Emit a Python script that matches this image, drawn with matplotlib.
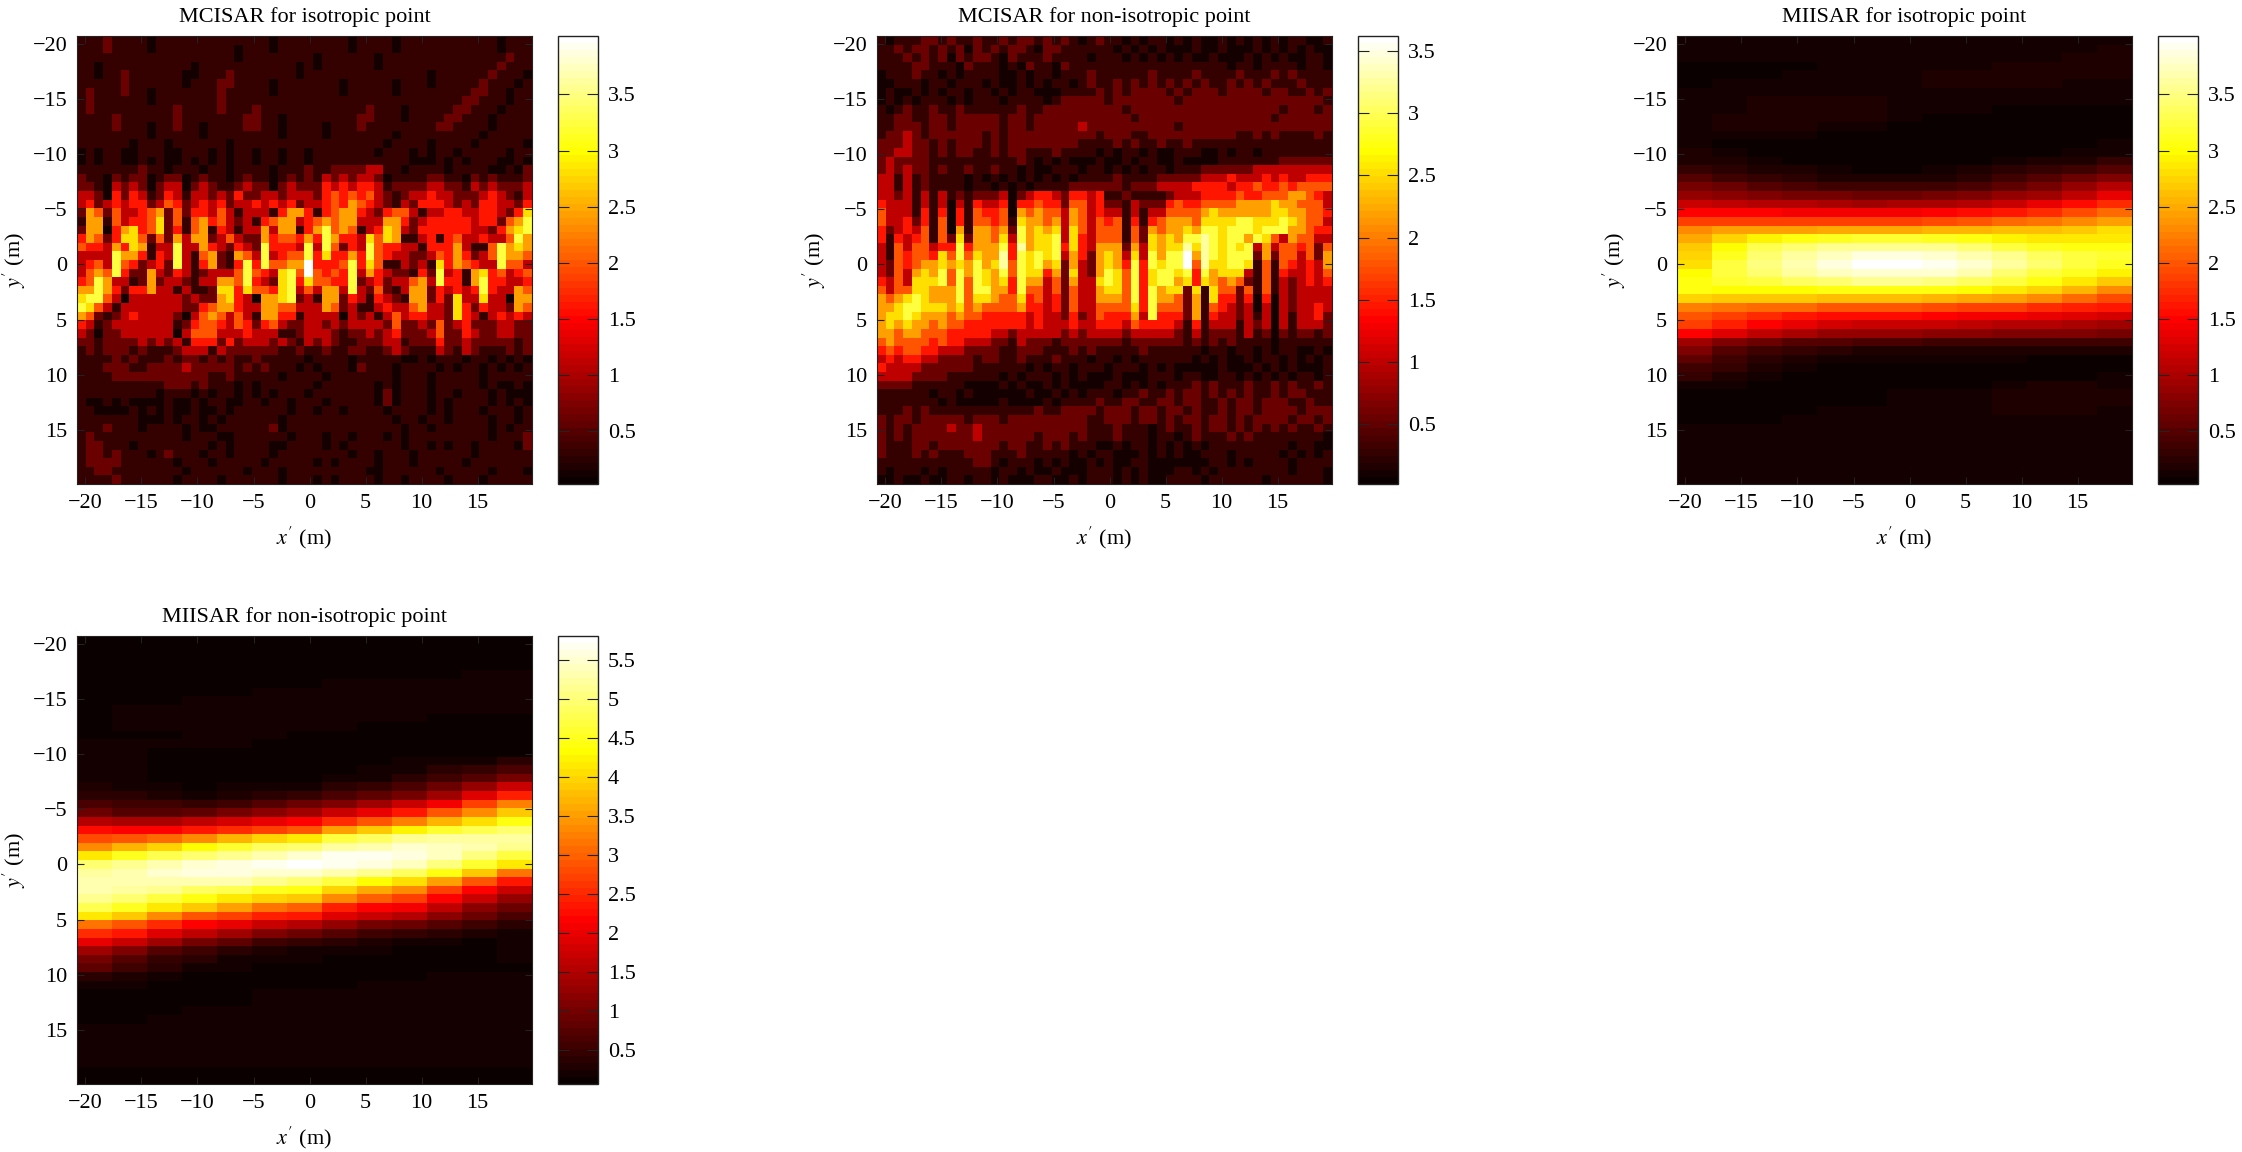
import matplotlib
matplotlib.use("Agg")
import matplotlib.pyplot as plt
import numpy as np

plt.rcParams["font.family"] = ["Liberation Serif", "DejaVu Serif"]
plt.rcParams["mathtext.fontset"] = "stix"

TITLES = ["MCISAR for isotropic point", "MCISAR for non-isotropic point",
          "MIISAR for isotropic point", "MIISAR for non-isotropic point"]
VMAX = [4.02, 3.62, 4.02, 5.81]
VMIN = [0.03, 0.02, 0.03, 0.06]
AXIS_TICKS = [-20, -15, -10, -5, 0, 5, 10, 15]
CBAR_TICKS = [[0.5, 1, 1.5, 2, 2.5, 3, 3.5],
              [0.5, 1, 1.5, 2, 2.5, 3, 3.5],
              [0.5, 1, 1.5, 2, 2.5, 3, 3.5],
              [0.5, 1, 1.5, 2, 2.5, 3, 3.5, 4, 4.5, 5, 5.5]]

# share of the colour scale that each hex digit in the two speckled grids stands for
LEVELS = [0.03, 0.08, 0.16, 0.28, 0.40, 0.50, 0.60, 0.70, 0.80, 0.90, 1.00]

# levels, one hex digit per cell
MCISAR_ISO = [
    "1112111101111 1111111110111 1111101111011 1111111110111",
    "1112111101111 1111101110111 1111101111011 1111111110111",
    "1111111111111 1111101111111 1011111101111 1111111111211",
    "1101111111111 0111111111110 1011111101111 1111111112111",
    "1101121111110 0111211111110 1111111111111 1011111121110",
    "1111121111110 1112211110111 1111011111011 1011111211101",
    "1211121101111 1112111110111 1111011111011 1111112211011",
    "1211111101111 1112111111111 1111111111111 1111122111011",
    "1211111111121 1112111211111 1111111211101 1111221110111",
    "1111211111121 1111112211011 1111112211101 1112211101111",
    "1111211101121 1011112211011 1101112111111 1122111101111",
    "1111111101111 1011111111011 1101111111011 1111111011111",
    "1111110111011 1111011111111 1111111110111 1011110111110",
    "0101100111001 1101011011011 0111111101110 1011011111011",
    "0101100101001 0101011011011 0111111111110 0010101110010",
    "1111111211011 1011011110111 2112222331101 1110111100102",
    "2110212201220 1211012110121 2132323320111 1221102121112",
    "2210323202330 2321123220232 2243434431222 2332213232223",
    "3320424312431 3323242233233 3245454532123 3433222343213",
    "3423434423542 3434233434342 3345465432132 4443232443324",
    "2652533456252 4435313331466 4145664324553 1334433443247",
    "1661534457251 5645323145663 4565663336642 3444443442568",
    "2660467457241 5614313363661 4685651347632 4444443324678",
    "4652477525263 6623532264554 6486443757611 3414533433586",
    "5443647613383 3643243284443 8385243854433 1444631158676",
    "3333866414383 1562165383455 8474464854332 2354642358665",
    "3453854234283 1462148485566 a444584751132 3174654338553",
    "3565842263243 1233358543785 a545483643221 4283416745345",
    "4586331262332 1336658432784 7554482342335 6384416844334",
    "6686424463313 1127747554783 5366383252136 6243434843365",
    "7885303333332 3226743066782 3166243143216 6242733733066",
    "8753133333332 2456643366553 3365231134335 6332742433265",
    "6521234333320 3565353166441 3333032313534 4332743134343",
    "4312333333312 4554354245322 3323233332522 3252342223322",
    "3202233333303 5553334333112 3332122323422 2352243223322",
    "2212222323231 4442423332321 3232112223312 2242232222212",
    "1212221211123 3313222222112 1121122112321 1132132111212",
    "1111212111212 2121211211111 0111101111100 1011101101010",
    "1112221122223 2222212121110 1011102111011 1101011010101",
    "1111222222222 2211211111011 1101111111011 1011111011111",
    "1111111111222 1211101011111 1011111101011 1011111010010",
    "1111111110111 0101101010111 0111111102011 1011011101000",
    "1001010000100 1011001101101 1101111102011 1010111101010",
    "1100001010100 1001011111101 1011011110111 1010111011101",
    "1111111000101 1010111111011 1111111111011 0110111101101",
    "1112111011110 1001111112011 1111111111101 1011111101011",
    "1211111111110 1110011111101 1101101110101 1111111101112",
    "1221110111111 1101011110011 1101011111101 1010110111102",
    "1221211101211 1011011110111 1111101101110 1111110111111",
    "1222211111101 1101111101111 1010111101110 1111101111111",
    "1122111111110 1111110111011 1111111001111 1101111101110",
    "1111211111101 1110111111011 1010111101101 1110111011111",
]

MCISAR_NONISO = [
    "1011122121121 1212212121012 1101011010100 1010101011001",
    "1121221212021 2122102211111 1010101000100 1000101010100",
    "1112121202122 1021112111101 1101010101001 0001010100110",
    "1111221110211 1010211021111 1111111111111 1011011110110",
    "0111211010111 1001011011121 1111121111211 1121112121111",
    "0011101101110 1001010110121 1212121212121 1212121112111",
    "0100101011011 0101100011112 1212222121222 1222212211212",
    "0101011101011 1011110122222 1222222212222 2222222222221",
    "1012112112111 1112112222222 2212222222222 2222222122212",
    "1122112212222 2122122222222 2221222222222 2222221222222",
    "1122212212222 2122122222322 2222222212222 2222222222222",
    "1223212222221 2122222222221 2221122222222 2211212111121",
    "2223221212221 2122222222111 1212112112111 1111111111111",
    "2233221212211 2122111211110 1011010011100 1011011111111",
    "2322221111111 1112101010001 0010110010000 1111111222222",
    "2323221211211 2110100111011 0101011011122 2222333333333",
    "3313121111010 1010101010111 1211112222233 3433343433444",
    "3313121111011 0101011112222 2212223333444 4344544545555",
    "3323131312122 2302344324434 1121111233344 4454455566543",
    "4333131303143 3404454425534 2213222454455 5566667665553",
    "5333141404154 4506565536534 3313133555567 6666667766554",
    "5334241504155 4517665636535 4514145666577 7788777876553",
    "4234351506166 5628676737535 5515265667688 7888788866544",
    "4143451527266 5738677837435 5515276768898 7886875365533",
    "3153553448466 6849677847436 6626376779798 7878363554525",
    "3154554758576 6948787836426 763738688a698 7888262553526",
    "3254566767686 7958786726326 764848788a597 7887151543436",
    "3253676858687 6858774627326 8758478878486 7773151433435",
    "4353777858587 6748663526337 8758478867476 5652151323434",
    "5355776668588 6648553525336 7758486772717 5525151323333",
    "6567876668577 6557453425336 6658486652617 4424040323333",
    "6678877767565 5556443425335 5557485552615 4323030323343",
    "6778766656554 4444343324235 4446384442614 3323130313342",
    "6767665655444 4444343334334 4435444431413 3313230313332",
    "6656655544444 3323333323233 3323333321312 2213120212212",
    "5655554544333 2213222122222 2212222221212 1211110111111",
    "4545544333222 2112221112121 1111211111101 1011010110010",
    "3434433222212 2112111211101 1010111111010 1001011010101",
    "4333322222211 1111010110111 0111010100000 1000101010001",
    "3333222211111 1010111010100 0100011101100 1101010101101",
    "2222111111000 0101001010000 1101010111212 1112112121121",
    "1111110110100 0000100101011 1011211212212 1212112122111",
    "1111111010000 0100001011112 1122112212211 2122122211211",
    "1112121111111 1111121122221 2221221221211 2122122221222",
    "2122122222122 2122222222211 2221221212212 2121222212212",
    "2121222232232 2222222222211 1211101211212 2121212121121",
    "2121222222232 2222212221211 1211101101211 1212111111110",
    "2111221222222 2122112121110 0101101010101 1111111101100",
    "2111212111222 1112111110101 1000101010011 1011111010101",
    "1111111111122 1011101010010 1001100000001 1010111101111",
    "1011101011111 0110100100011 1010100011010 1111111101110",
    "0010010011011 0100011001011 1010100111101 1111101111110",
]

# smooth panels: percent of the colour scale, 52 rows and 13 columns across
MIISAR_ISO = [
    [3, 3, 3, 3, 3, 3, 3, 3, 3, 3, 3, 3, 3], [3, 3, 3, 3, 3, 3, 3, 3, 3, 3, 3, 3, 4],
    [3, 3, 3, 3, 3, 3, 3, 3, 3, 3, 3, 4, 4], [2, 2, 2, 2, 3, 3, 3, 3, 3, 4, 4, 4, 4],
    [2, 2, 2, 3, 3, 3, 3, 4, 4, 4, 4, 4, 4], [2, 3, 3, 3, 3, 3, 3, 4, 4, 4, 4, 3, 3],
    [3, 3, 3, 3, 3, 3, 3, 3, 3, 3, 3, 3, 3], [3, 3, 4, 4, 4, 4, 3, 3, 3, 3, 3, 3, 3],
    [3, 3, 4, 4, 4, 4, 3, 3, 3, 2, 2, 2, 2], [3, 4, 5, 5, 5, 4, 3, 2, 2, 2, 2, 2, 2],
    [3, 4, 4, 4, 3, 3, 2, 2, 2, 2, 2, 2, 2], [3, 3, 3, 3, 2, 2, 2, 2, 2, 2, 2, 2, 2],
    [3, 2, 2, 2, 2, 2, 2, 2, 2, 2, 2, 2, 3], [4, 3, 2, 2, 1, 1, 2, 2, 2, 2, 2, 3, 3],
    [5, 4, 3, 2, 2, 1, 2, 2, 2, 3, 4, 5, 7], [8, 6, 5, 4, 3, 2, 2, 3, 4, 6, 8, 10, 12],
    [12, 10, 8, 6, 5, 4, 4, 5, 6, 9, 12, 15, 18],
    [17, 15, 13, 11, 10, 9, 9, 10, 11, 14, 17, 21, 26],
    [22, 20, 19, 17, 17, 16, 16, 17, 18, 21, 24, 28, 34],
    [30, 28, 27, 26, 25, 24, 25, 25, 27, 30, 34, 38, 43],
    [37, 37, 37, 36, 36, 35, 36, 37, 38, 41, 44, 48, 52],
    [47, 47, 47, 46, 46, 46, 47, 48, 50, 52, 54, 57, 61],
    [58, 60, 61, 61, 62, 62, 62, 63, 64, 65, 65, 67, 70],
    [62, 68, 73, 76, 78, 79, 79, 78, 76, 73, 71, 71, 72],
    [66, 74, 82, 86, 88, 89, 89, 88, 85, 81, 77, 76, 76],
    [68, 78, 86, 90, 93, 96, 96, 95, 92, 88, 83, 80, 79],
    [70, 80, 87, 92, 96, 99, 100, 98, 95, 90, 85, 81, 78],
    [74, 80, 85, 90, 93, 95, 95, 94, 91, 86, 81, 77, 73],
    [76, 79, 81, 84, 86, 88, 88, 87, 84, 80, 76, 72, 67],
    [76, 74, 75, 75, 76, 76, 76, 76, 74, 72, 68, 64, 58],
    [68, 67, 66, 66, 65, 65, 65, 64, 62, 60, 57, 53, 48],
    [56, 54, 53, 52, 50, 50, 49, 48, 47, 46, 44, 42, 40],
    [50, 46, 43, 41, 39, 38, 38, 37, 36, 35, 34, 33, 31],
    [46, 42, 37, 34, 31, 30, 29, 29, 28, 27, 26, 25, 24],
    [37, 33, 28, 25, 22, 21, 21, 20, 20, 19, 19, 18, 17],
    [24, 19, 15, 13, 12, 11, 11, 10, 10, 10, 9, 9, 9],
    [18, 13, 9, 7, 6, 5, 5, 5, 5, 5, 4, 4, 4],
    [14, 10, 6, 4, 3, 3, 3, 3, 3, 3, 2, 2, 2],
    [10, 7, 4, 3, 2, 2, 2, 2, 2, 2, 2, 2, 2],
    [7, 5, 3, 2, 2, 2, 2, 2, 2, 2, 2, 2, 3],
    [3, 3, 2, 2, 2, 2, 2, 2, 2, 3, 4, 4, 3], [2, 2, 2, 2, 2, 2, 3, 3, 3, 4, 5, 5, 4],
    [2, 2, 2, 2, 2, 2, 3, 3, 3, 5, 5, 5, 4], [2, 2, 2, 2, 3, 3, 3, 3, 3, 4, 4, 4, 3],
    [2, 2, 2, 3, 3, 3, 3, 3, 3, 3, 3, 3, 3], [3, 3, 3, 3, 3, 3, 3, 3, 3, 3, 3, 3, 3],
    [3, 3, 3, 3, 3, 3, 3, 3, 3, 3, 3, 3, 3], [3, 3, 3, 3, 3, 3, 3, 3, 3, 3, 3, 3, 3],
    [3, 3, 3, 3, 3, 3, 3, 3, 3, 3, 3, 3, 3], [3, 3, 3, 3, 3, 3, 3, 3, 3, 3, 3, 3, 3],
    [3, 3, 3, 3, 3, 3, 3, 3, 3, 3, 3, 3, 3], [3, 3, 3, 3, 3, 3, 3, 3, 3, 3, 3, 3, 3],
]

MIISAR_NONISO = [
    [2, 2, 2, 2, 2, 2, 2, 2, 2, 2, 2, 2, 2], [2, 2, 2, 2, 2, 2, 2, 2, 2, 2, 2, 2, 2],
    [2, 2, 2, 2, 2, 2, 2, 2, 2, 2, 2, 2, 2], [2, 2, 2, 2, 2, 2, 2, 2, 2, 2, 2, 2, 2],
    [2, 2, 2, 2, 2, 2, 2, 2, 2, 2, 2, 3, 3], [2, 2, 2, 2, 2, 2, 2, 3, 3, 3, 3, 3, 3],
    [2, 2, 2, 2, 2, 3, 3, 3, 3, 3, 3, 3, 3], [2, 2, 2, 3, 3, 3, 3, 3, 3, 3, 3, 3, 3],
    [2, 3, 3, 3, 3, 3, 3, 3, 3, 3, 3, 3, 3], [2, 3, 3, 3, 3, 3, 3, 3, 3, 3, 2, 2, 2],
    [2, 3, 3, 3, 3, 3, 3, 3, 2, 2, 2, 2, 2], [2, 2, 2, 3, 3, 3, 2, 2, 2, 2, 2, 2, 2],
    [3, 3, 3, 3, 3, 2, 2, 2, 2, 2, 1, 1, 1], [3, 3, 2, 2, 2, 2, 2, 2, 2, 2, 1, 1, 2],
    [3, 3, 2, 1, 1, 1, 1, 2, 2, 3, 3, 4, 6], [3, 3, 2, 1, 1, 1, 1, 2, 3, 4, 6, 8, 11],
    [4, 3, 2, 1, 2, 2, 2, 3, 4, 6, 9, 13, 18], [5, 4, 3, 2, 3, 4, 4, 6, 8, 11, 16, 22, 30],
    [7, 6, 5, 4, 5, 7, 8, 11, 14, 18, 24, 32, 42],
    [11, 10, 9, 8, 10, 13, 15, 19, 23, 29, 36, 46, 56],
    [15, 13, 13, 14, 17, 21, 24, 30, 35, 41, 50, 58, 66],
    [26, 25, 25, 28, 31, 35, 37, 44, 49, 56, 64, 70, 76],
    [39, 38, 38, 40, 43, 47, 50, 60, 66, 73, 79, 82, 85],
    [48, 50, 53, 58, 64, 69, 72, 80, 84, 88, 90, 90, 90],
    [58, 63, 68, 74, 79, 83, 85, 90, 92, 94, 93, 91, 88],
    [72, 77, 82, 86, 89, 92, 94, 97, 97, 96, 93, 87, 80],
    [85, 88, 91, 94, 96, 98, 100, 98, 96, 93, 87, 79, 72],
    [90, 92, 94, 96, 96, 95, 95, 91, 88, 84, 76, 66, 55],
    [92, 92, 92, 92, 91, 88, 86, 80, 75, 70, 60, 50, 40],
    [92, 90, 88, 84, 82, 78, 76, 68, 62, 58, 47, 38, 30],
    [88, 85, 80, 76, 72, 68, 66, 58, 52, 46, 38, 29, 22],
    [82, 78, 72, 66, 60, 55, 52, 42, 38, 36, 28, 21, 16],
    [72, 66, 58, 50, 46, 42, 40, 33, 29, 26, 20, 15, 11],
    [55, 50, 44, 38, 34, 30, 27, 22, 18, 16, 12, 9, 7],
    [44, 40, 33, 28, 24, 19, 16, 12, 10, 8, 6, 5, 4],
    [35, 30, 23, 18, 14, 10, 8, 6, 5, 4, 3, 2, 3],
    [24, 19, 13, 9, 7, 5, 4, 3, 3, 2, 2, 2, 3],
    [18, 13, 8, 6, 4, 3, 3, 2, 2, 2, 2, 2, 3],
    [14, 10, 6, 4, 3, 2, 2, 2, 2, 2, 2, 2, 2],
    [7, 5, 3, 2, 2, 2, 2, 2, 2, 2, 3, 3, 3],
    [3, 3, 2, 2, 2, 2, 2, 2, 3, 3, 3, 3, 3], [2, 2, 2, 2, 2, 3, 3, 3, 3, 3, 3, 3, 3],
    [2, 2, 2, 2, 2, 3, 3, 3, 3, 3, 3, 3, 3], [2, 2, 2, 3, 3, 3, 3, 3, 3, 3, 3, 3, 3],
    [2, 2, 3, 3, 3, 3, 3, 3, 3, 3, 3, 3, 3], [3, 3, 3, 3, 3, 3, 3, 3, 3, 3, 3, 3, 3],
    [3, 3, 3, 3, 3, 3, 3, 3, 3, 3, 3, 3, 3], [3, 3, 3, 3, 3, 3, 3, 3, 3, 3, 3, 3, 3],
    [3, 3, 3, 3, 3, 3, 3, 3, 3, 3, 3, 3, 3], [3, 3, 3, 3, 3, 3, 3, 3, 3, 3, 3, 3, 3],
    [2, 2, 2, 2, 2, 2, 2, 2, 2, 2, 2, 2, 2], [2, 2, 2, 2, 2, 2, 2, 2, 2, 2, 2, 2, 2],
]

W, H = 2242, 1152
PANEL_BOXES = [(77, 36), (877, 36), (1677, 36), (77, 636)]
PANEL_W, PANEL_H = 455, 448
CBAR_GAP, CBAR_W = 26, 40


def parse_levels(rows):
    return np.array([[LEVELS[int(c, 16)] for c in r.replace(" ", "")] for r in rows])


def box(x, y, w, h):
    return [x / W, 1 - (y + h) / H, w / W, h / H]


fig = plt.figure(figsize=(W / 100, H / 100), dpi=100)
cmap = plt.get_cmap("hot", 64)
grids = [parse_levels(MCISAR_ISO), parse_levels(MCISAR_NONISO),
         np.array(MIISAR_ISO) / 100, np.array(MIISAR_NONISO) / 100]

for i, grid in enumerate(grids):
    x0, y0 = PANEL_BOXES[i]
    ax = fig.add_axes(box(x0, y0, PANEL_W, PANEL_H))
    im = ax.imshow(grid * VMAX[i], cmap=cmap, vmin=VMIN[i], vmax=VMAX[i], aspect="auto",
                   interpolation="nearest", extent=[-20.75, 19.85, 19.9, -20.7])
    ax.set_xticks(AXIS_TICKS)
    ax.set_yticks(AXIS_TICKS)
    ax.tick_params(direction="in", top=True, right=True, length=5, width=0.8,
                   labelsize=16, pad=7, color="#222222")
    ax.set_title(TITLES[i], fontsize=16, pad=10)
    ax.set_xlabel(r"$x^{\prime}$ (m)", fontsize=16)
    ax.set_ylabel(r"$y^{\prime}$ (m)", fontsize=16)
    ax.xaxis.set_label_coords(0.5, -0.09)
    ax.yaxis.set_label_coords(-0.108, 0.5)
    for s in ax.spines.values():
        s.set_linewidth(0.8)
        s.set_color("#222222")

    cax = fig.add_axes(box(x0 + PANEL_W + CBAR_GAP, y0, CBAR_W, PANEL_H))
    cb = fig.colorbar(im, cax=cax)
    cb.set_ticks(CBAR_TICKS[i])
    cb.set_ticklabels([f"{t:g}" for t in CBAR_TICKS[i]])
    cax.tick_params(direction="in", left=True, right=True, length=8, width=0.8,
                    labelsize=16, pad=7, color="#222222")
    cb.outline.set_linewidth(1)
    cb.outline.set_edgecolor("#222222")

fig.savefig("out.png", dpi=100)
plt.close(fig)
